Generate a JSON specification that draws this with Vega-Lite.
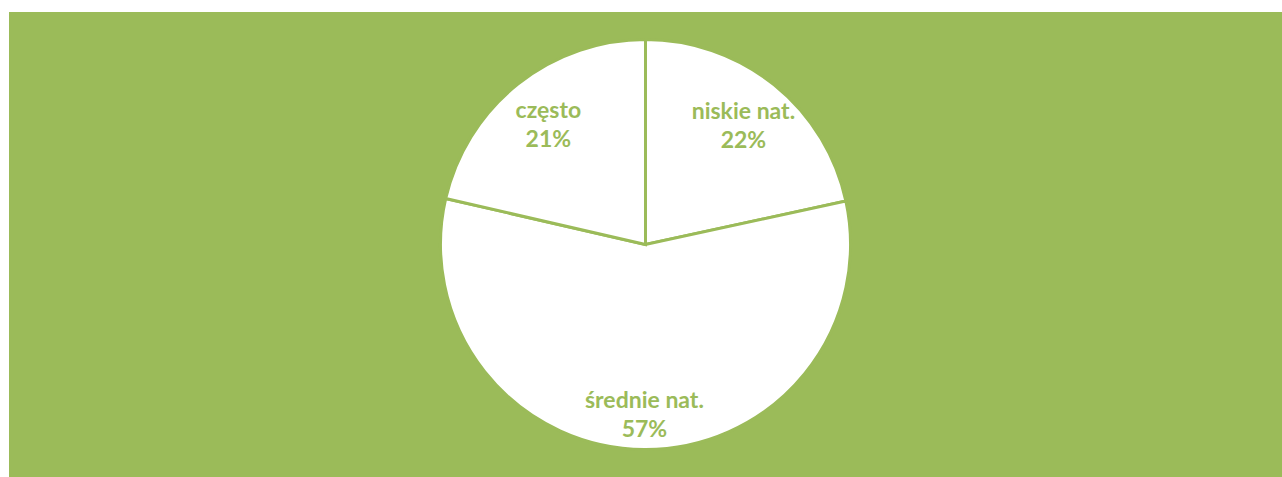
{
  "$schema": "https://vega.github.io/schema/vega-lite/v6.json",
  "width": 1282,
  "height": 477,
  "autosize": {"type": "fit", "contains": "padding"},
  "padding": {"left": 9, "top": 12, "right": 0, "bottom": 0},
  "background": "white",
  "view": {"fill": "#9BBB59", "stroke": null},
  "config": {"view": {"fill": "#9BBB59", "stroke": null}},
  "data": {
    "values": [
      {"ord": 1, "cat": "niskie nat.", "value": 21.6, "label": "niskie nat.\n22%"},
      {"ord": 2, "cat": "średnie nat.", "value": 57.0, "label": "średnie nat.\n57%"},
      {"ord": 3, "cat": "często", "value": 21.4, "label": "często\n21%"}
    ]
  },
  "encoding": {
    "theta": {"field": "value", "type": "quantitative", "stack": true},
    "order": {"field": "ord", "type": "quantitative", "sort": "ascending"}
  },
  "layer": [
    {
      "mark": {"type": "arc", "outerRadius": 205, "fill": "white", "stroke": "#9BBB59", "strokeWidth": 3}
    },
    {
      "mark": {"type": "text", "radius": 156, "dy": -11, "font": "Lato", "fontWeight": "bold", "fontSize": 23, "fill": "#9BBB59", "lineBreak": "\n", "lineHeight": 29, "baseline": "middle", "align": "center"},
      "encoding": {
        "text": {"field": "label"},
        "opacity": {"condition": {"test": "datum.cat === 'średnie nat.'", "value": 0}, "value": 1}
      }
    },
    {
      "mark": {"type": "text", "radius": 168, "dy": -11, "font": "Lato", "fontWeight": "bold", "fontSize": 23, "fill": "#9BBB59", "lineBreak": "\n", "lineHeight": 29, "baseline": "middle", "align": "center"},
      "encoding": {
        "text": {"field": "label"},
        "opacity": {"condition": {"test": "datum.cat === 'średnie nat.'", "value": 1}, "value": 0}
      }
    }
  ]
}
